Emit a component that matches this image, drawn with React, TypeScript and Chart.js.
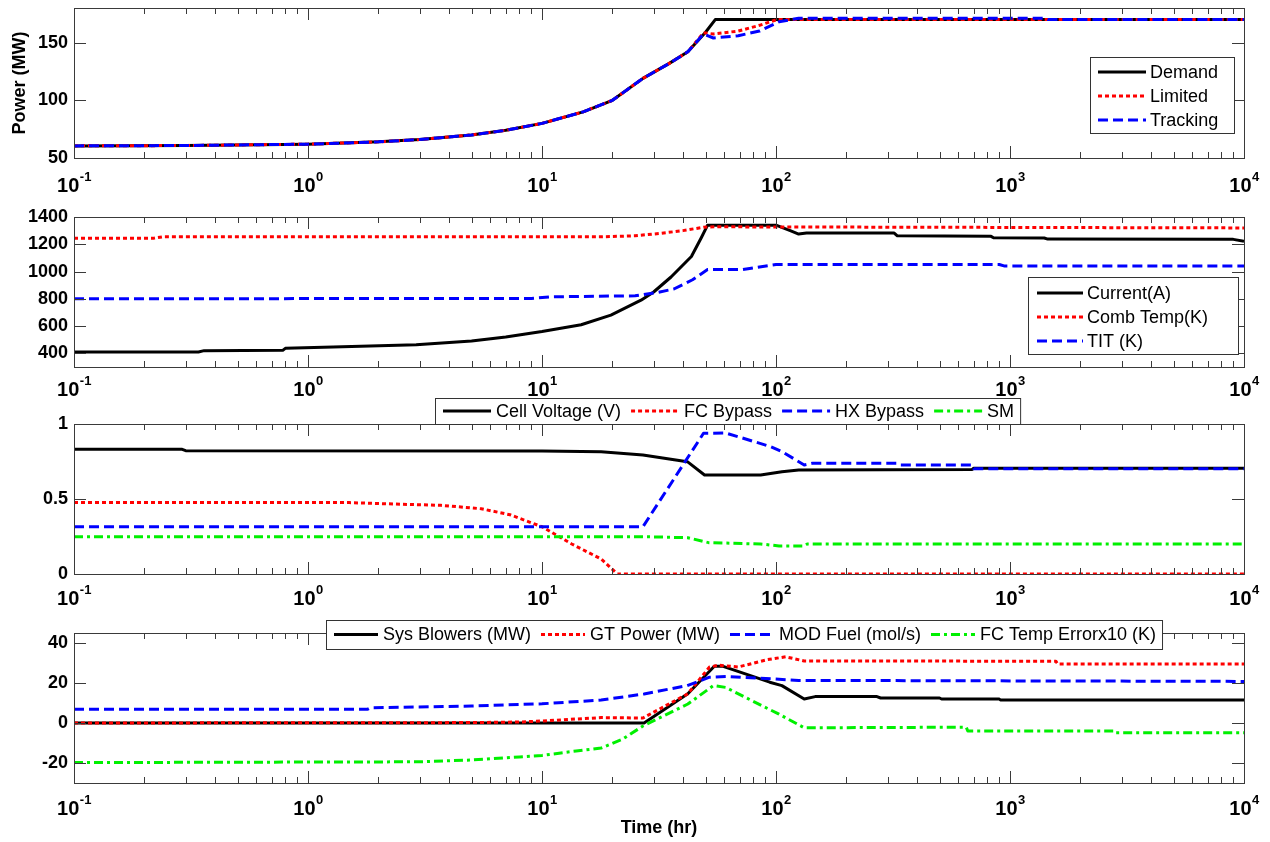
import React, { useEffect, useRef } from 'react';
import { Chart, registerables } from 'chart.js';

Chart.register(...registerables);

const FONT = '"Liberation Sans", Arial, Helvetica, sans-serif';

// ---------- shared log time axis (hr)
const xMin = 0.1;
const xMax = 10000;
const xExponents = [-1, 0, 1, 2, 3, 4];
const xMinorMultipliers = [2, 3, 4, 5, 6, 7, 8, 9];

// ---------- Panel 1 : Power (MW)
const powerTicks = [50, 100, 150];
const demandT = [0.1, 0.3, 1, 2, 3, 5, 7, 10, 15, 20, 27, 35, 42, 50, 55, 10000];
const demandV = [60.5, 60.8, 62, 64, 66, 70, 74, 80, 90, 100, 119, 132, 142, 159, 170, 170];
const limitedT = [0.1, 0.3, 1, 2, 3, 5, 7, 10, 15, 20, 27, 35, 42, 49, 54, 69, 85, 101, 10000];
const limitedV = [60.5, 60.8, 62, 64, 66, 70, 74, 80, 90, 100, 119, 132, 142, 158.5, 157.5, 160, 165, 170, 170];
const trackingT = [0.1, 0.3, 1, 2, 3, 5, 7, 10, 15, 20, 27, 35, 42, 49, 54, 69, 85, 103, 125, 1400, 1450, 10000];
const trackingV = [60.5, 60.8, 62, 64, 66, 70, 74, 80, 90, 100, 119, 132, 142, 157.5, 154, 156, 160, 168, 171.2, 171.2, 170, 170];

// ---------- Panel 2
const panel2Ticks = [400, 600, 800, 1000, 1200, 1400];
const currentT = [0.1, 0.34, 0.36, 0.78, 0.8, 1.28, 2.9, 5, 7, 10, 14.7, 19.7, 26.5, 30, 35.6, 43.5, 48, 51, 100, 115, 125, 135, 320, 330, 830, 850, 1400, 1450, 9000, 10000];
const currentV = [410, 410, 420, 422, 437, 446, 463, 490, 520, 560, 610, 680, 790, 850, 960, 1110, 1250, 1340, 1340, 1300, 1275, 1282, 1282, 1262, 1258, 1248, 1246, 1238, 1236, 1222];
const combTempT = [0.1, 0.22, 0.24, 18, 25, 32, 40, 49, 55, 10000];
const combTempV = [1245, 1245, 1255, 1255, 1262, 1280, 1300, 1325, 1328, 1320];
const titT = [0.1, 9, 11, 25, 31, 36.6, 44, 51, 72, 100, 900, 950, 10000];
const titV = [800, 803, 815, 822, 846, 872, 940, 1015, 1015, 1052, 1052, 1040, 1040];

// ---------- Panel 3
const panel3Ticks = [0, 0.5, 1];
const cellT = [0.1, 0.29, 0.3, 10, 17.9, 27, 41.8, 49.5, 86, 106, 125, 690, 700, 10000];
const cellV = [0.831, 0.831, 0.822, 0.82, 0.815, 0.793, 0.749, 0.66, 0.66, 0.682, 0.693, 0.697, 0.705, 0.705];
const fcBypassT = [0.1, 1.5, 2.5, 3.7, 5.5, 7.3, 10, 13.4, 17.9, 21, 10000];
const fcBypassV = [0.476, 0.476, 0.465, 0.458, 0.435, 0.395, 0.315, 0.2, 0.1, 0, 0];
const hxBypassT = [0.1, 27, 49, 61, 95, 106, 132, 143, 330, 340, 690, 700, 10000];
const hxBypassV = [0.315, 0.315, 0.938, 0.94, 0.849, 0.816, 0.727, 0.738, 0.738, 0.727, 0.727, 0.702, 0.702];
const smT = [0.1, 27, 42, 51.5, 86, 103, 132, 136, 10000];
const smV = [0.249, 0.249, 0.242, 0.209, 0.2, 0.187, 0.187, 0.2, 0.2];

// ---------- Panel 4
const panel4Ticks = [-20, 0, 20, 40];
const blowersT = [0.1, 27.3, 42, 54.5, 59, 94, 106, 132, 147, 270, 280, 500, 510, 900, 910, 10000];
const blowersV = [0, 0, 14.6, 28.4, 28.4, 20.4, 18.7, 12, 13.2, 13.2, 12.5, 12.5, 12, 12, 11.5, 11.5];
const gtPowerT = [0.1, 5, 8, 10, 17.9, 27, 42, 52, 57, 69, 92, 110, 132, 1570, 1600, 10000];
const gtPowerV = [0, 0.2, 0.5, 1, 2.7, 2.5, 14.6, 28, 28.9, 28, 31.7, 33.1, 31, 30.9, 29.5, 29.5];
const modFuelT = [0.1, 1.8, 1.85, 5, 10, 17.9, 27.3, 41.7, 52, 61, 95, 125, 10000];
const modFuelV = [6.9, 6.9, 7.6, 8.5, 9.6, 11.5, 14.5, 18.7, 22.9, 23.2, 22.1, 21.3, 20.8];
const tempErrT = [0.1, 3, 5, 8, 10, 14, 17.9, 22, 27, 42, 54, 61, 74, 103, 132, 650, 660, 2770, 2800, 10000];
const tempErrV = [-19.8, -19.4, -18.5, -17, -16.2, -14, -12.5, -8.2, -1.5, 9.5, 18.7, 17.8, 12.8, 4.4, -2.4, -2.1, -4, -4, -4.9, -4.9];

// ---------- styles
const BLACK = '#000000';
const RED = '#ff0000';
const BLUE = '#0000ff';
const GREEN = '#00f000';
const SOLID: number[] = [];
const DOTTED = [4, 3];
const DASHED = [10, 5];
const DASHDOT = [9, 4, 3, 4];

type Series = { label: string; t: number[]; v: number[]; color: string; dash: number[] };
type Legend =
  | { mode: 'vertical'; left: number; right: number; top: number; bottom: number; firstRow: number; rowGap: number; padL: number; lineLen: number }
  | { mode: 'horizontal'; center: number; top: number; bottom: number; padL: number; lineLen: number };
type PanelSpec = {
  top: number;
  bottom: number;
  extraBottom: number;
  labelBase: number;
  yMin: number;
  yMax: number;
  yTicks: number[];
  yTitle?: string;
  xTitle?: string;
  series: Series[];
  legend: Legend;
};

// legend coordinates are page coordinates
const panels: PanelSpec[] = [
  {
    top: 8, bottom: 158, extraBottom: 50, labelBase: 34, yMin: 50, yMax: 180, yTicks: powerTicks, yTitle: 'Power (MW)',
    series: [
      { label: 'Demand', t: demandT, v: demandV, color: BLACK, dash: SOLID },
      { label: 'Limited', t: limitedT, v: limitedV, color: RED, dash: DOTTED },
      { label: 'Tracking', t: trackingT, v: trackingV, color: BLUE, dash: DASHED },
    ],
    legend: { mode: 'vertical', left: 1090, right: 1234, top: 57, bottom: 133, firstRow: 72, rowGap: 24, padL: 8, lineLen: 48 },
  },
  {
    top: 217, bottom: 367, extraBottom: 50, labelBase: 29, yMin: 300, yMax: 1400, yTicks: panel2Ticks,
    series: [
      { label: 'Current(A)', t: currentT, v: currentV, color: BLACK, dash: SOLID },
      { label: 'Comb Temp(K)', t: combTempT, v: combTempV, color: RED, dash: DOTTED },
      { label: 'TIT (K)', t: titT, v: titV, color: BLUE, dash: DASHED },
    ],
    legend: { mode: 'vertical', left: 1028, right: 1238, top: 277, bottom: 354, firstRow: 293, rowGap: 24, padL: 9, lineLen: 46 },
  },
  {
    top: 424, bottom: 574, extraBottom: 50, labelBase: 31, yMin: 0, yMax: 1, yTicks: panel3Ticks,
    series: [
      { label: 'Cell Voltage (V)', t: cellT, v: cellV, color: BLACK, dash: SOLID },
      { label: 'FC Bypass', t: fcBypassT, v: fcBypassV, color: RED, dash: DOTTED },
      { label: 'HX Bypass', t: hxBypassT, v: hxBypassV, color: BLUE, dash: DASHED },
      { label: 'SM', t: smT, v: smV, color: GREEN, dash: DASHDOT },
    ],
    legend: { mode: 'horizontal', center: 728, top: 398, bottom: 424, padL: 8, lineLen: 48 },
  },
  {
    top: 633, bottom: 783, extraBottom: 59, labelBase: 32, yMin: -30, yMax: 45, yTicks: panel4Ticks, xTitle: 'Time (hr)',
    series: [
      { label: 'Sys Blowers (MW)', t: blowersT, v: blowersV, color: BLACK, dash: SOLID },
      { label: 'GT Power (MW)', t: gtPowerT, v: gtPowerV, color: RED, dash: DOTTED },
      { label: 'MOD Fuel (mol/s)', t: modFuelT, v: modFuelV, color: BLUE, dash: DASHED },
      { label: 'FC Temp Errorx10 (K)', t: tempErrT, v: tempErrV, color: GREEN, dash: DASHDOT },
    ],
    legend: { mode: 'horizontal', center: 744, top: 620, bottom: 649, padL: 8, lineLen: 44 },
  },
];

const TOP_MARGIN = 40;
const CANVAS_W = 1270;
const PLOT_LEFT = 74;
const PLOT_RIGHT = 1244;

function makeFramePlugin(spec: PanelSpec) {
  const off = spec.top - TOP_MARGIN; // page y of the canvas top
  return {
    id: 'matlabFrame',
    afterDraw(chart: any) {
      const ctx: CanvasRenderingContext2D = chart.ctx;
      const { left, right, top, bottom } = chart.chartArea;
      const xs = chart.scales.x;
      const ys = chart.scales.y;
      ctx.save();
      // box + inward ticks
      ctx.setLineDash([]);
      ctx.strokeStyle = '#3a3a3a';
      ctx.lineWidth = 1;
      ctx.strokeRect(left + 0.5, top + 0.5, right - left, bottom - top);
      ctx.beginPath();
      for (const e of xExponents) {
        for (const m of [1, ...xMinorMultipliers]) {
          const v = m * Math.pow(10, e);
          if (v < xMin * 0.999 || v > xMax * 1.001) continue;
          const x = Math.round(xs.getPixelForValue(v)) + 0.5;
          const len = m === 1 ? 12 : 6;
          ctx.moveTo(x, bottom);
          ctx.lineTo(x, bottom - len);
          ctx.moveTo(x, top);
          ctx.lineTo(x, top + len);
        }
      }
      for (const v of spec.yTicks) {
        const y = Math.round(ys.getPixelForValue(v)) + 0.5;
        ctx.moveTo(left, y);
        ctx.lineTo(left + 12, y);
        ctx.moveTo(right, y);
        ctx.lineTo(right - 12, y);
      }
      ctx.stroke();

      // x tick labels 10^e
      ctx.fillStyle = '#000';
      ctx.textBaseline = 'alphabetic';
      ctx.textAlign = 'left';
      for (const e of xExponents) {
        const x = xs.getPixelForValue(Math.pow(10, e));
        ctx.font = `bold 20px ${FONT}`;
        const wb = ctx.measureText('10').width;
        ctx.font = `bold 13px ${FONT}`;
        const ex = String(e);
        const we = ctx.measureText(ex).width;
        const start = x - (wb + we) / 2;
        ctx.font = `bold 20px ${FONT}`;
        ctx.fillText('10', start, bottom + spec.labelBase);
        ctx.font = `bold 13px ${FONT}`;
        ctx.fillText(ex, start + wb + 0.5, bottom + spec.labelBase - 11);
      }

      if (spec.xTitle) {
        ctx.font = `bold 18px ${FONT}`;
        ctx.textAlign = 'center';
        ctx.textBaseline = 'middle';
        ctx.fillText(spec.xTitle, (left + right) / 2, bottom + 45);
      }

      // legend
      const lg = spec.legend;
      ctx.font = `18px ${FONT}`;
      const widths = spec.series.map((s) => ctx.measureText(s.label).width);
      const drawSample = (s: Series, x0: number, x1: number, y: number) => {
        ctx.beginPath();
        ctx.setLineDash(s.dash);
        ctx.lineCap = 'butt';
        ctx.strokeStyle = s.color;
        ctx.lineWidth = 3;
        ctx.moveTo(x0, y);
        ctx.lineTo(x1, y);
        ctx.stroke();
        ctx.setLineDash([]);
      };
      const drawBox = (x: number, y: number, w: number, h: number) => {
        ctx.setLineDash([]);
        ctx.fillStyle = '#ffffff';
        ctx.fillRect(x, y, w, h);
        ctx.strokeStyle = '#333333';
        ctx.lineWidth = 1;
        ctx.strokeRect(x + 0.5, y + 0.5, w, h);
      };
      const gap = 4;
      if (lg.mode === 'vertical') {
        drawBox(lg.left, lg.top - off, lg.right - lg.left, lg.bottom - lg.top);
        spec.series.forEach((s, i) => {
          const y = lg.firstRow + i * lg.rowGap - off;
          const x0 = lg.left + lg.padL;
          drawSample(s, x0, x0 + lg.lineLen, y);
          ctx.fillStyle = '#000';
          ctx.font = `18px ${FONT}`;
          ctx.textAlign = 'left';
          ctx.textBaseline = 'middle';
          ctx.fillText(s.label, x0 + lg.lineLen + gap, y + 1);
        });
      } else {
        const itemGap = 10;
        const padR = 6;
        const total =
          lg.padL + widths.reduce((a, w) => a + w + lg.lineLen + gap + 1, 0) + itemGap * (widths.length - 1) + padR;
        const bx = Math.round(lg.center - total / 2);
        drawBox(bx, lg.top - off, total, lg.bottom - lg.top);
        const y = (lg.top + lg.bottom) / 2 - off;
        let cx = bx + lg.padL;
        spec.series.forEach((s, i) => {
          drawSample(s, cx, cx + lg.lineLen, y);
          cx += lg.lineLen + gap + 1;
          ctx.fillStyle = '#000';
          ctx.font = `18px ${FONT}`;
          ctx.textAlign = 'left';
          ctx.textBaseline = 'middle';
          ctx.fillText(s.label, cx, y + 1);
          cx += widths[i] + itemGap;
        });
      }
      ctx.restore();
    },
  };
}

function Panel({ spec }: { spec: PanelSpec }) {
  const ref = useRef<HTMLCanvasElement>(null);
  const plotH = spec.bottom - spec.top;
  const canvasH = TOP_MARGIN + plotH + spec.extraBottom;
  useEffect(() => {
    if (!ref.current) return;
    const n = spec.series.length;
    const chart = new Chart(ref.current, {
      type: 'line',
      data: {
        datasets: spec.series.map((s, i) => ({
          label: s.label,
          data: s.t.map((x, k) => ({ x, y: s.v[k] })),
          borderColor: s.color,
          backgroundColor: s.color,
          borderDash: s.dash,
          borderWidth: 3,
          borderCapStyle: 'butt',
          borderJoinStyle: 'round',
          pointRadius: 0,
          pointHoverRadius: 0,
          tension: 0,
          fill: false,
          order: n - i,
        })),
      },
      options: {
        animation: false,
        responsive: false,
        maintainAspectRatio: false,
        events: [],
        layout: {
          padding: { left: 0, right: CANVAS_W - PLOT_RIGHT, top: TOP_MARGIN, bottom: spec.extraBottom },
        },
        plugins: {
          legend: { display: false },
          tooltip: { enabled: false },
        },
        scales: {
          x: { type: 'logarithmic', min: xMin, max: xMax, display: false },
          y: {
            type: 'linear',
            min: spec.yMin,
            max: spec.yMax,
            afterBuildTicks: (scale: any) => {
              scale.ticks = spec.yTicks.map((v) => ({ value: v }));
            },
            afterFit: (scale: any) => {
              scale.width = PLOT_LEFT;
              scale.paddingTop = 0;
              scale.paddingBottom = 0;
            },
            grid: { display: false, drawTicks: false },
            border: { display: false },
            ticks: {
              color: '#000',
              padding: 6,
              font: { family: FONT, size: 18, weight: 'bold' },
              callback: (v: any) => String(v),
            },
            title: spec.yTitle
              ? {
                  display: true,
                  text: spec.yTitle,
                  color: '#000',
                  font: { family: FONT, size: 18, weight: 'bold' },
                  padding: { top: 9, bottom: 0 },
                }
              : { display: false },
          },
        },
      } as any,
      plugins: [makeFramePlugin(spec)],
    });
    return () => chart.destroy();
  }, [spec]);
  return (
    <canvas
      ref={ref}
      width={CANVAS_W}
      height={canvasH}
      style={{ position: 'absolute', left: 0, top: spec.top - TOP_MARGIN, width: CANVAS_W, height: canvasH }}
    />
  );
}

export default function App() {
  return (
    <div
      style={{
        position: 'absolute',
        left: 0,
        top: 0,
        width: 1270,
        height: 842,
        overflow: 'hidden',
        background: '#ffffff',
      }}
    >
      {panels.map((p, i) => (
        <Panel key={i} spec={p} />
      ))}
    </div>
  );
}
